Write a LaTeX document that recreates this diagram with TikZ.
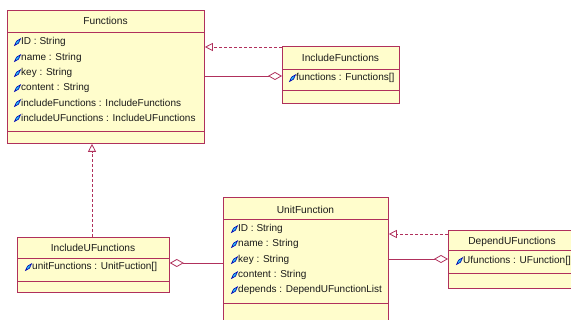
\documentclass[tikz,border=0pt]{standalone}
\usepackage{fontspec}
\setmainfont{Liberation Sans}
\usetikzlibrary{arrows.meta}
\definecolor{umlborder}{HTML}{B0305C}
\definecolor{umlfill}{HTML}{FFFDCC}
\definecolor{umltext}{HTML}{1A1A1A}
\tikzset{
  classbox/.style={draw=umlborder, fill=umlfill, line width=0.8pt, anchor=north west, inner sep=0pt},
  divider/.style={draw=umlborder, line width=0.8pt},
  classtitle/.style={font=\fontsize{10.2}{12}\selectfont, text=umltext, inner sep=0pt},
  attrtext/.style={font=\fontsize{10}{12}\selectfont, text=umltext, inner sep=0pt, anchor=west},
  link/.style={draw=umlborder, line width=0.8pt},
  realize/.style={link, dashed, dash pattern=on 3pt off 2pt, -{Triangle[open, length=8pt, width=8pt, fill=white]}},
  aggregate/.style={link, -{Diamond[open, length=14pt, width=8pt, fill=white]}},
  pics/attrmark/.style={code={
    \filldraw[fill=cyan!85!white, draw=blue!70!black, line width=0.6pt]
      (-0.5,3.5) -- (1.5,-0.8) -- (5.5,-3.2) -- (3.5,1.2) -- cycle;
  }}
}
\begin{document}
\begin{tikzpicture}[x=1pt, y=-1pt]
\useasboundingbox (0,0) rectangle (571,320);
\clip (0,0) rectangle (571,320);

% ---- Functions ----
\node[classbox, minimum width=197pt, minimum height=133pt] (F) at (7,10) {};
\draw[divider] (7,32) -- (204,32);
\draw[divider] (7,131) -- (204,131);
\node[classtitle] (Ft) at (105.5,21) {Functions};
\foreach \y/\t [count=\i] in {42/ID : String, 58/name : String, 73/key : String,
    88/content : String, 103/includeFunctions : IncludeFunctions,
    118/includeUFunctions : IncludeUFunctions} {
  \pic at (15,\y) {attrmark};
  \node[attrtext] (Fa\i) at (21,\y) {\t};
}

% ---- IncludeFunctions ----
\node[classbox, minimum width=117pt, minimum height=57pt] (IF) at (282,46) {};
\draw[divider] (282,69) -- (399,69);
\draw[divider] (282,90) -- (399,90);
\node[classtitle] (IFt) at (340.5,58) {IncludeFunctions};
\pic at (290,78) {attrmark};
\node[attrtext] (IFa1) at (296,78) {functions : Functions[]};

% ---- IncludeUFunctions ----
\node[classbox, minimum width=152pt, minimum height=55pt] (IU) at (17,237) {};
\draw[divider] (17,258) -- (169,258);
\draw[divider] (17,281) -- (169,281);
\node[classtitle] (IUt) at (93,248) {IncludeUFunctions};
\pic at (26,267) {attrmark};
\node[attrtext] (IUa1) at (32,267) {unitFunctions : UnitFuction[]};

% ---- UnitFunction ----
\node[classbox, minimum width=165pt, minimum height=133pt] (UF) at (223,197) {};
\draw[divider] (223,219) -- (388,219);
\draw[divider] (223,303) -- (388,303);
\node[classtitle] (UFt) at (305.5,210) {UnitFunction};
\foreach \y/\t [count=\i] in {229/ID : String, 244/name : String, 260/key : String,
    275/content : String, 290/depends : DependUFunctionList} {
  \pic at (232,\y) {attrmark};
  \node[attrtext] (UFa\i) at (238,\y) {\t};
}

% ---- DependUFunctions ----
\node[classbox, minimum width=132pt, minimum height=58pt] (DU) at (448,230) {};
\draw[divider] (448,250) -- (580,250);
\draw[divider] (448,273) -- (580,273);
\node[classtitle] (DUt) at (512,242) {DependUFunctions};
\pic at (457,261) {attrmark};
\node[attrtext] (DUa1) at (463,261) {Ufunctions : UFunction[]};

% ---- relations ----
\draw[realize] (IF.west |- 0,47) -- (F.east |- 0,47);
\draw[aggregate] (F.east |- 0,76) -- (IF.west |- 0,76);
\draw[realize] (IU.north -| 92,0) -- (F.south -| 92,0);
\draw[aggregate] (UF.west |- 0,263) -- (IU.east |- 0,263);
\draw[realize] (DU.west |- 0,234) -- (UF.east |- 0,234);
\draw[aggregate] (UF.east |- 0,259) -- (DU.west |- 0,259);
\end{tikzpicture}
\end{document}
